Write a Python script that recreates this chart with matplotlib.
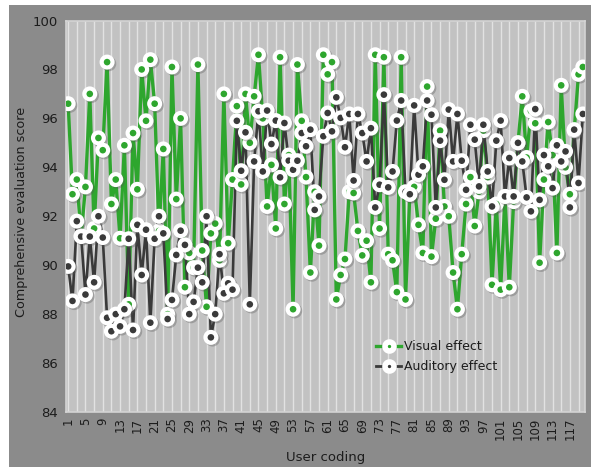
import numpy as np
import matplotlib
matplotlib.use("Agg")
import matplotlib.pyplot as plt
from matplotlib.lines import Line2D
from matplotlib.patches import Rectangle
import matplotlib.patheffects as pe

users = list(range(1, 121))

visual = [96.6, 92.9, 93.5, 91.2, 93.2, 97.0, 91.5, 95.2, 94.7, 98.3,
          92.5, 93.5, 91.1, 94.9, 88.4, 95.4, 93.1, 98.0, 95.9, 98.4,
          96.6, 91.4, 94.75, 88.0, 98.1, 92.7, 96.0, 89.1, 90.5, 89.9,
          98.2, 90.6, 88.3, 91.3, 91.7, 90.2, 97.0, 90.9, 93.5, 96.5,
          93.3, 97.0, 95.0, 96.9, 98.6, 96.0, 92.4, 94.1, 91.5, 98.5,
          92.5, 94.5, 88.2, 98.2, 95.9, 93.6, 89.7, 93.0, 90.8, 98.6,
          97.8, 98.3, 88.6, 89.6, 90.25, 93.0, 92.95, 91.4, 90.4, 91.0,
          89.3, 98.6, 91.5, 98.5, 90.45, 90.2, 88.9, 98.5, 88.6, 92.9,
          93.2, 91.65, 90.5, 97.3, 90.35, 91.9, 95.5, 92.4, 92.0, 89.7,
          88.2, 90.45, 92.5, 93.6, 91.6, 93.0, 95.5, 93.6, 89.2, 92.5,
          89.0, 92.8, 89.1, 92.6, 95.0, 96.9, 94.4, 96.3, 95.8, 90.1,
          93.5, 95.85, 94.5, 90.5, 97.35, 94.0, 92.9, 95.5, 97.8, 98.1]

auditory = [89.95, 88.54, 91.8, 91.17, 88.8, 91.17, 89.3, 92.0, 91.13, 87.85,
            87.3, 88.0, 87.5, 88.2, 91.08, 87.35, 91.65, 89.6, 91.45, 87.65,
            91.08, 92.0, 91.3, 87.8, 88.58, 90.42, 91.41, 90.83, 88.0, 88.5,
            89.9, 89.3, 92.0, 87.05, 88.0, 90.45, 88.85, 89.26, 89.0, 95.9,
            93.86, 95.43, 88.4, 94.24, 96.29, 93.83, 96.32, 94.95, 95.91, 93.59,
            95.81, 94.27, 93.9, 94.27, 95.4, 94.86, 95.54, 92.26, 92.81, 95.27,
            96.22, 95.47, 96.86, 96.02, 94.82, 96.18, 93.46, 96.18, 95.4, 94.24,
            95.6, 92.36, 93.29, 96.97, 93.18, 93.83, 95.91, 96.73, 93.0, 92.9,
            96.53, 93.7, 94.04, 96.73, 96.15, 92.36, 95.09, 93.49, 96.36, 94.24,
            96.18, 94.27, 93.08, 95.74, 95.13, 93.22, 95.74, 93.83, 92.4, 95.09,
            95.91, 92.81, 94.38, 92.81, 95.0, 94.24, 92.77, 92.2, 96.38, 92.67,
            94.5, 94.04, 93.15, 94.9, 94.24, 94.65, 92.36, 95.54, 93.36, 96.18]

xtick_labels = [str(v) for v in range(1, 121, 4)]
yticks = [84, 86, 88, 90, 92, 94, 96, 98, 100]

GREEN = "#2ea62e"
DARK = "#3a3a3a"

W, H = 591, 467
fig = plt.figure(figsize=(W / 100, H / 100), dpi=100, facecolor="white")
fig.patches.append(Rectangle((9 / W, 0), 1, 1 - 5 / H, transform=fig.transFigure,
                             facecolor="#8b8b8b", edgecolor="none", zorder=-10))

ax = fig.add_axes([66 / W, 1 - 412 / H, (585 - 66) / W, (412 - 20.5) / H])
ax.set_facecolor("#c2c2c2")
for s in ax.spines.values():
    s.set_color("#d4d4d4")
    s.set_linewidth(1.2)

ax.vlines(np.arange(1, 121, 2), 84, 100, colors="#e2e2e2", linewidth=1.0, zorder=0.5)

shadow = [pe.SimpleLineShadow(offset=(1.2, -1.2), shadow_color="#555555", alpha=0.35), pe.Normal()]

for vals, col, lw in [(visual, GREEN, 2.4), (auditory, DARK, 1.9)]:
    ax.plot(users, vals, color=col, linewidth=lw, zorder=2, solid_joinstyle="round")
    ax.plot(users, vals, linestyle="none", marker="o", markersize=7.8,
            markerfacecolor=col, markeredgecolor="white", markeredgewidth=3.0,
            zorder=3, path_effects=shadow)

ax.set_xlim(0.5, 120.5)
ax.set_ylim(84, 100)
ax.set_yticks(yticks)
ax.set_yticklabels([str(v) for v in yticks], fontsize=9.5, color="#1c1c1c")
ax.set_xticks(list(range(1, 121, 4)))
ax.set_xticklabels(xtick_labels, rotation=90, fontsize=8.5, color="#1c1c1c")
ax.tick_params(length=0, pad=6)
ax.tick_params(axis="x", pad=4)

fig.text(326 / W, 1 - 457 / H, "User coding", ha="center", va="center",
         fontsize=9.5, color="#1c1c1c")
fig.text(22 / W, 1 - 212 / H, "Comprehensive evaluation score", ha="center", va="center",
         rotation=90, fontsize=9.2, color="#1c1c1c")

handles = [Line2D([], [], color=GREEN, linewidth=2.4, marker="o", markersize=6.5,
                  markerfacecolor=GREEN, markeredgecolor="white", markeredgewidth=4.0),
           Line2D([], [], color=DARK, linewidth=2.0, marker="o", markersize=6.5,
                  markerfacecolor=DARK, markeredgecolor="white", markeredgewidth=4.0)]
leg = ax.legend(handles, ["Visual effect", "Auditory effect"], loc="center left",
                bbox_to_anchor=((376 - 66) / 519, (412 - 356.5) / 391.5), frameon=False,
                fontsize=9, handlelength=2.0, handletextpad=0.2, labelspacing=0.55,
                borderpad=0, borderaxespad=0)
for t in leg.get_texts():
    t.set_color("#1c1c1c")

fig.savefig("out.png", dpi=100, facecolor=fig.get_facecolor())
